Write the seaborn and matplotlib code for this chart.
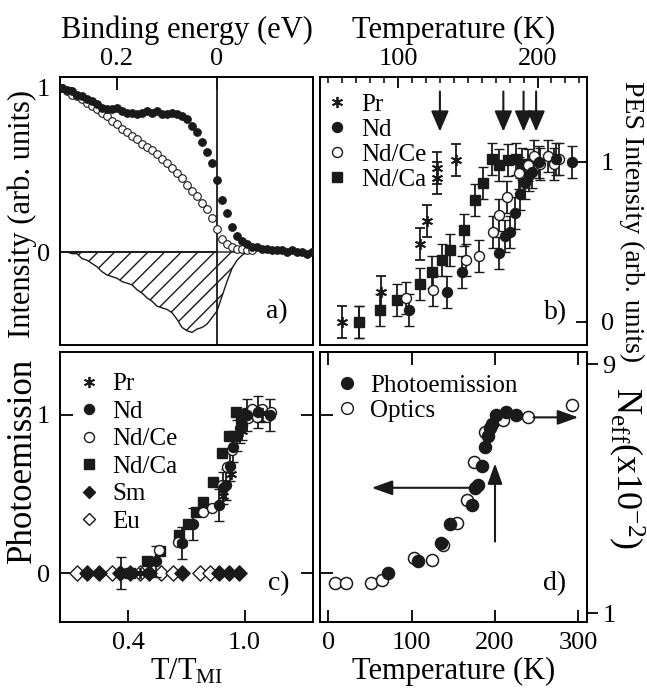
import numpy as np
import pandas as pd
import matplotlib
matplotlib.use('Agg')
import matplotlib.pyplot as plt
import seaborn as sns
from matplotlib.lines import Line2D
from matplotlib.ticker import MultipleLocator

# ---- panel a: spectra vs binding energy (eV)
be_grid = [0.31, 0.30, 0.29, 0.28, 0.27, 0.26, 0.25, 0.24, 0.23, 0.22,
           0.21, 0.20, 0.19, 0.18, 0.17, 0.16, 0.15, 0.14, 0.13, 0.12,
           0.11, 0.10, 0.09, 0.08, 0.07, 0.06, 0.05, 0.04, 0.03, 0.02,
           0.01, 0.00, -0.01, -0.02, -0.03, -0.04, -0.05, -0.06, -0.07, -0.08,
           -0.09, -0.10, -0.11, -0.12, -0.13, -0.14, -0.15, -0.16, -0.17, -0.18, -0.19]
pes_metal = [1.00, 0.99, 0.98, 0.96, 0.95, 0.93, 0.92, 0.90, 0.88, 0.87,
             0.87, 0.88, 0.86, 0.85, 0.85, 0.84, 0.85, 0.86, 0.85, 0.86,
             0.84, 0.84, 0.85, 0.84, 0.83, 0.81, 0.77, 0.73, 0.67, 0.61,
             0.54, 0.44, 0.32, 0.24, 0.15, 0.10, 0.07, 0.05, 0.03, 0.03,
             0.02, 0.02, 0.01, 0.01, 0.01, 0.00, 0.01, 0.00, 0.00, -0.01, 0.00]
pes_insul = [1.00, 0.98, 0.96, 0.95, 0.93, 0.91, 0.89, 0.87, 0.85, 0.83,
             0.80, 0.78, 0.75, 0.73, 0.71, 0.69, 0.66, 0.64, 0.62, 0.60,
             0.57, 0.54, 0.51, 0.48, 0.45, 0.41, 0.37, 0.34, 0.30, 0.26,
             0.21, 0.14, 0.08, 0.05, 0.03, 0.02, 0.02, 0.01, 0.01]
pes_diff = [0.00, 0.00, -0.01, -0.01, -0.04, -0.05, -0.07, -0.09, -0.12, -0.14,
            -0.15, -0.16, -0.18, -0.19, -0.20, -0.23, -0.25, -0.28, -0.30, -0.33,
            -0.34, -0.35, -0.37, -0.41, -0.46, -0.48, -0.49, -0.47, -0.46, -0.44,
            -0.40, -0.36, -0.27, -0.18, -0.10, -0.05, -0.02, 0.00]

# ---- panel b: PES intensity vs temperature (K)
compounds = ['Pr', 'Nd', 'Nd/Ce', 'Nd/Ca']
t_mi = [130, 199, 190, 175.5]
temp_pr = [60, 88, 115.5, 121, 128, 128, 141.5]
pes_pr = [0.0, 0.19, 0.49, 0.63, 0.90, 0.96, 1.01]
temp_nd = [72, 108, 135, 146, 172.5, 176.5, 180, 184, 187.5, 191, 194, 196, 201, 213, 225]
pes_nd = [0.0, 0.075, 0.19, 0.31, 0.43, 0.54, 0.56, 0.68, 0.80, 0.87, 0.92, 0.94, 1.0, 1.02, 1.0]
temp_ndce = [106, 125, 149, 158, 168, 172.5, 178, 187, 193, 197.5, 202, 207.5, 212, 215.5]
pes_ndce = [0.15, 0.20, 0.39, 0.41, 0.56, 0.67, 0.78, 0.93, 0.98, 1.04, 0.99, 1.04, 0.99, 1.02]
temp_ndca = [72, 87, 99, 116, 124, 131.5, 137.5, 147, 155.5, 161, 167.5, 172.5, 178.5, 184.5, 189]
pes_ndca = [0.0, 0.075, 0.14, 0.24, 0.31, 0.39, 0.45, 0.575, 0.76, 0.87, 1.02, 0.98, 1.01, 1.02, 0.99]
pes_err = 0.1

# ---- panel c: extra compounds that stay insulating (T/T_MI)
tt_sm = [0.19, 0.25, 0.36, 0.41, 0.51, 0.68, 0.87, 0.92, 0.97]
tt_eu = [0.14, 0.32, 0.46, 0.57, 0.63, 0.77, 0.82]

# ---- panel d: optics N_eff (x10^-2) vs temperature
temp_opt = [8, 21, 51, 64, 103, 124, 138, 154, 166, 175, 188, 209, 239, 292]
neff_opt = [1.95, 1.95, 1.95, 2.06, 2.76, 2.70, 3.19, 3.90, 4.63, 5.86, 6.83, 7.21, 7.29, 7.69]

series_b = {
    'Pr': (temp_pr, pes_pr),
    'Nd': (temp_nd, pes_nd),
    'Nd/Ce': (temp_ndce, pes_ndce),
    'Nd/Ca': (temp_ndca, pes_ndca),
}

sns.set_theme(style='ticks', rc={
    'axes.edgecolor': 'black', 'axes.linewidth': 1.4,
    'xtick.color': 'black', 'ytick.color': 'black',
    'text.color': 'black', 'axes.labelcolor': 'black',
    'xtick.major.width': 1.3, 'ytick.major.width': 1.3,
    'xtick.major.size': 8, 'ytick.major.size': 8,
    'xtick.minor.width': 1.1, 'xtick.minor.size': 4,
    'hatch.linewidth': 1.0,
})
plt.rcParams['font.family'] = ['Liberation Serif', 'DejaVu Serif']
plt.rcParams['mathtext.fontset'] = 'custom'
plt.rcParams['mathtext.rm'] = 'Liberation Serif'
plt.rcParams['mathtext.it'] = 'Liberation Serif:italic'

TICK = 19
LAB = 22
LEG = 18

styles = {
    'Pr': dict(marker=(6, 2, 0), ms=8, mfc='k', mew=1.3),
    'Nd': dict(marker='o', ms=7.2, mfc='k', mew=1.0),
    'Nd/Ce': dict(marker='o', ms=7.2, mfc='white', mew=1.0),
    'Nd/Ca': dict(marker='s', ms=6.8, mfc='k', mew=1.0),
    'Sm': dict(marker='D', ms=6.5, mfc='k', mew=1.0),
    'Eu': dict(marker='D', ms=6.5, mfc='white', mew=1.0),
}

W, H = 647, 693
fig = plt.figure(figsize=(W / 100, H / 100), dpi=100)


def box(l, t, r, b):
    return [l / W, 1 - b / H, (r - l) / W, (b - t) / H]


ax_a = fig.add_axes(box(60, 77, 313, 345))
ax_b = fig.add_axes(box(320, 77, 587, 345))
ax_c = fig.add_axes(box(60, 352, 313, 622))
ax_d = fig.add_axes(box(320, 352, 587, 622))

for ax in (ax_a, ax_b, ax_c, ax_d):
    for s in ax.spines.values():
        s.set_visible(True)
        s.set_linewidth(1.4)


def handle(name):
    return Line2D([], [], ls='none', color='k', mec='k', **styles[name])


def arrow(width=0.3):
    return dict(arrowstyle='-|>,head_length=0.7,head_width=%s' % width, color='k',
                lw=1.5, shrinkA=0, shrinkB=0, mutation_scale=18)


# ---------------- a)
ax = ax_a
ax.fill_between(be_grid[:len(pes_diff)], pes_diff, 0, facecolor='white',
                edgecolor='k', hatch='//', lw=1.0, zorder=1)
ax.hlines(0, 0, 0.314, color='k', lw=1.3, zorder=2)
ax.axvline(0, color='k', lw=1.3, zorder=2)
sns.scatterplot(x=be_grid[:len(pes_insul)], y=pes_insul, ax=ax, marker='o', s=30,
                color='white', edgecolor='k', linewidth=0.8, zorder=3)
sns.scatterplot(x=be_grid, y=pes_metal, ax=ax, marker='o', s=30,
                color='k', edgecolor='k', linewidth=0.8, zorder=4)
ax.set_xlim(0.314, -0.192)
ax.set_ylim(-0.567, 1.067)
ax.set_xticks([0.2, 0])
ax.set_xticklabels(['0.2', '0'])
ax.set_yticks([0, 1])
ax.set_yticklabels(['0', '1'])
ax.tick_params(axis='x', top=True, bottom=False, labeltop=True, labelbottom=False,
               direction='in', labelsize=TICK, pad=5, length=9)
ax.tick_params(axis='y', left=True, right=False, direction='in', labelsize=TICK, pad=7, length=9)
ax.xaxis.set_label_position('top')
ax.set_xlabel('Binding energy (eV)', fontsize=LAB, labelpad=7)
ax.set_ylabel('')
ax.text(0.858, 0.125, 'a)', transform=ax.transAxes, fontsize=20, ha='center', va='center')

# ---------------- b)
ax = ax_b
for name in ['Nd/Ca', 'Nd/Ce', 'Nd', 'Pr']:
    tx, ty = series_b[name]
    ax.errorbar(tx, ty, yerr=pes_err, ls='none', color='k', mec='k', ecolor='k',
                elinewidth=1.3, capsize=3.5, capthick=1.3, **styles[name])
for t in t_mi:
    ax.annotate('', xy=(t, 1.19), xytext=(t, 1.44), arrowprops=arrow())
ax.set_xlim(44, 235.5)
ax.set_ylim(-0.144, 1.531)
ax.set_xticks([100, 200])
ax.xaxis.set_minor_locator(MultipleLocator(10))
ax.set_yticks([0, 1])
ax.set_yticklabels(['0', '1'])
ax.tick_params(axis='x', which='both', top=True, bottom=False, labeltop=True,
               labelbottom=False, direction='in', labelsize=TICK, pad=5)
ax.tick_params(axis='x', which='major', length=8)
ax.tick_params(axis='y', left=False, right=True, labelleft=False, labelright=True,
               direction='in', labelsize=TICK, pad=10, length=8)
ax.xaxis.set_label_position('top')
ax.set_xlabel('Temperature (K)', fontsize=LAB, labelpad=7)
ax.legend(handles=[handle(n) for n in compounds], labels=compounds, loc='upper left',
          bbox_to_anchor=(-0.015, 0.975), frameon=False, fontsize=LEG, handlelength=0.9,
          handletextpad=0.5, labelspacing=0.1, borderpad=0.2, borderaxespad=0.2)
ax.text(0.884, 0.12, 'b)', transform=ax.transAxes, fontsize=20, ha='center', va='center')

# ---------------- c)
ax = ax_c
sns.scatterplot(x=tt_eu, y=[0] * len(tt_eu), ax=ax, marker='D', s=60,
                color='white', edgecolor='k', linewidth=1.0, zorder=2)
sns.scatterplot(x=tt_sm, y=[0] * len(tt_sm), ax=ax, marker='D', s=60,
                color='k', edgecolor='k', linewidth=1.0, zorder=2)
for name in ['Nd', 'Nd/Ca', 'Nd/Ce', 'Pr']:
    tm = t_mi[compounds.index(name)]
    tx, ty = series_b[name]
    tt = np.array(tx) / tm
    if name == 'Nd':
        ax.errorbar(tt, ty, yerr=pes_err, ls='none', color='k', mec='k', ecolor='k',
                    elinewidth=1.3, capsize=3.5, capthick=1.3, zorder=3, **styles[name])
    else:
        ax.plot(tt, ty, ls='none', color='k', mec='k', zorder=3, **styles[name])
ax.set_xlim(0.05, 1.352)
ax.set_ylim(-0.308, 1.398)
ax.set_xticks([0.4, 1.0])
ax.set_xticklabels(['0.4', '1.0'])
ax.set_yticks([0, 1])
ax.set_yticklabels(['0', '1'])
ax.tick_params(axis='x', top=False, bottom=True, direction='in', labelsize=TICK, pad=7, length=9)
ax.tick_params(axis='y', left=True, right=True, direction='in', labelsize=TICK, pad=7, length=9)
ax.set_xlabel('T/T$_{\\rm MI}$', fontsize=LAB, labelpad=2)
leg_names = compounds + ['Sm', 'Eu']
ax.legend(handles=[handle(n) for n in leg_names], labels=leg_names, loc='upper left',
          bbox_to_anchor=(0.03, 0.96), frameon=False, fontsize=LEG, handlelength=0.9,
          handletextpad=0.5, labelspacing=0.2, borderpad=0.2, borderaxespad=0.2)
ax.text(0.866, 0.144, 'c)', transform=ax.transAxes, fontsize=20, ha='center', va='center')

# ---------------- d)
ax = ax_d
ax2 = ax.twinx()
sns.scatterplot(x=temp_opt, y=neff_opt, ax=ax2, marker='o', s=75,
                color='white', edgecolor='k', linewidth=1.1)
sns.scatterplot(x=temp_nd, y=pes_nd, ax=ax, marker='o', s=75,
                color='k', edgecolor='k', linewidth=1.1)
ax.set_zorder(ax2.get_zorder() + 1)
ax.patch.set_visible(False)
ax.annotate('', xy=(52, 0.54), xytext=(178, 0.54), arrowprops=arrow(0.25))
ax.annotate('', xy=(300, 0.985), xytext=(246, 0.985), arrowprops=arrow(0.25))
ax.annotate('', xy=(200, 0.695), xytext=(200, 0.2), arrowprops=arrow(0.25))
ax.set_xlim(-10, 310.4)
ax.set_ylim(-0.308, 1.398)
ax2.set_ylim(0.711, 9.386)
ax.set_xticks([0, 100, 200, 300])
ax.set_yticks([0, 1])
ax.tick_params(axis='x', top=True, bottom=True, direction='in', labelsize=TICK, pad=7, length=9)
ax.tick_params(axis='y', left=True, right=False, labelleft=False, direction='in', length=9)
ax2.set_yticks([1, 9])
ax2.set_yticklabels(['1', '9'])
ax2.tick_params(axis='y', right=True, direction='out', labelsize=TICK, pad=3, length=8, width=1.3)
ax2.set_ylabel('')
ax.set_xlabel('Temperature (K)', fontsize=LAB, labelpad=2)
ax.set_ylabel('')
d_names = ['Photoemission', 'Optics']
d_handles = [Line2D([], [], ls='none', marker='o', ms=8.5, mfc='k', mec='k'),
             Line2D([], [], ls='none', marker='o', ms=8.5, mfc='white', mec='k')]
ax.legend(handles=d_handles, labels=d_names, loc='upper left', bbox_to_anchor=(0.02, 0.955),
          frameon=False, fontsize=LEG, handlelength=0.9, handletextpad=0.5,
          labelspacing=0.1, borderpad=0.2, borderaxespad=0.2)
ax.text(0.88, 0.144, 'd)', transform=ax.transAxes, fontsize=20, ha='center', va='center')

# ---------------- shared side labels
fig.text(22 / W, 1 - 214 / H, 'Intensity (arb. units)', rotation=90, ha='center',
         va='center', fontsize=LAB)
fig.text(22 / W, 1 - 460 / H, 'Photoemission', rotation=90, ha='center',
         va='center', fontsize=25)
fig.text(632 / W, 1 - 222 / H, 'PES Intensity (arb. units)', rotation=270, ha='center',
         va='center', fontsize=20)
fig.text(626 / W, 1 - 468 / H, 'N$_{\\rm eff}$(x10$^{-2}$)', rotation=270, ha='center',
         va='center', fontsize=26)

fig.savefig('out.png', dpi=100)
